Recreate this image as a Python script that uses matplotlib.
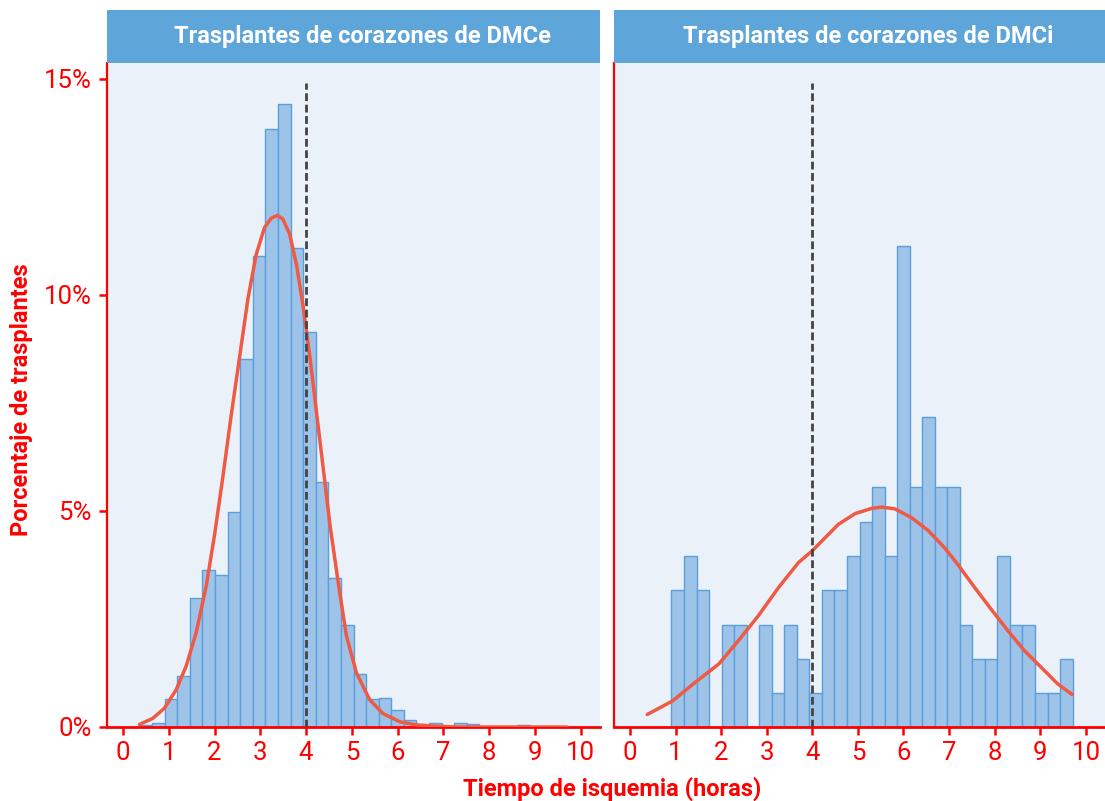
import matplotlib
matplotlib.use("Agg")
import matplotlib.pyplot as plt
import numpy as np
from matplotlib.patches import Rectangle

plt.rcParams['font.family'] = ['Roboto', 'DejaVu Sans']

# shared histogram bins (hours)
bin_lo = 0.36
bin_hi = 9.71
n_bins = 34

panel_titles = ["Trasplantes de corazones de DMCe", "Trasplantes de corazones de DMCi"]

# percent of transplants in each bin
pct_dmce = [0.05, 0.09, 0.65, 1.18, 2.99, 3.63, 3.51, 4.98, 8.52, 10.9,
            13.85, 14.42, 11.09, 9.15, 5.67, 3.44, 2.36, 1.22, 0.65, 0.67,
            0.39, 0.16, 0.0, 0.10, 0.0, 0.10, 0.06, 0.0, 0.0, 0.0,
            0.04, 0.0, 0.0, 0.0]
pct_dmci = [0.0, 0.0, 3.18, 3.96, 3.18, 0.0, 2.37, 2.37, 0.0, 2.36,
            0.79, 2.37, 1.58, 0.79, 3.18, 3.18, 3.96, 4.75, 5.55, 3.96,
            11.13, 5.55, 7.17, 5.55, 5.55, 2.36, 1.57, 1.57, 3.96, 2.36,
            2.36, 0.79, 0.79, 1.57]

# fitted density curves (hours, percent)
curve_dmce_x = [0.36, 0.65, 0.90, 1.16, 1.38, 1.60, 1.82, 2.00, 2.18, 2.36,
                2.55, 2.73, 2.91, 3.09, 3.24, 3.37, 3.49, 3.64, 3.79, 3.93,
                4.08, 4.22, 4.37, 4.52, 4.70, 4.88, 5.10, 5.39, 5.68, 6.05,
                6.4, 6.8, 7.3, 8.0, 9.0, 9.7]
curve_dmce_y = [0.06, 0.20, 0.43, 0.86, 1.41, 2.19, 3.28, 4.45, 5.78, 7.19,
                8.59, 9.92, 10.94, 11.56, 11.78, 11.84, 11.76, 11.41, 10.70, 9.77,
                8.59, 7.34, 6.02, 4.69, 3.35, 2.11, 1.25, 0.63, 0.31, 0.12,
                0.05, 0.02, 0.0, 0.0, 0.0, 0.0]
curve_dmci_x = [0.38, 0.93, 1.44, 1.95, 2.38, 2.82, 3.26, 3.70, 4.00, 4.28,
                4.57, 4.94, 5.30, 5.52, 5.81, 6.17, 6.54, 6.90, 7.20, 7.56,
                7.92, 8.29, 8.65, 9.02, 9.38, 9.70]
curve_dmci_y = [0.29, 0.60, 1.04, 1.46, 2.00, 2.58, 3.23, 3.81, 4.08, 4.38,
                4.69, 4.94, 5.06, 5.09, 5.05, 4.85, 4.55, 4.15, 3.75, 3.23,
                2.73, 2.23, 1.77, 1.38, 1.00, 0.75]

cutoff = 4  # hours
x_ticks = list(range(0, 11))
y_ticks = [0, 5, 10, 15]
y_ticklabels = ["0%", "5%", "10%", "15%"]

red = "#ff0000"
bg = "#eaf1f9"
strip_col = "#5ea5da"
bar_face = "#9dc3e8"
bar_edge = "#5a9edb"
curve_col = "#f05a44"

fig = plt.figure(figsize=(11.05, 8.01), dpi=100)
W, H = 1105, 801
panels = [(107, 600), (614, 1105)]
top, bottom = 63, 727

edges = np.linspace(bin_lo, bin_hi, n_bins + 1)
width = edges[1] - edges[0]

data = [(pct_dmce, curve_dmce_x, curve_dmce_y), (pct_dmci, curve_dmci_x, curve_dmci_y)]

for i, ((x0, x1), title, (pct, cx, cy)) in enumerate(zip(panels, panel_titles, data)):
    ax = fig.add_axes([x0 / W, (H - bottom) / H, (x1 - x0) / W, (bottom - top) / H])
    ax.set_facecolor(bg)
    ax.bar(edges[:-1], pct, width=width, align='edge', color=bar_face,
           edgecolor=bar_edge, linewidth=1.0, zorder=2)
    ax.plot(cx, cy, color=curve_col, lw=2.5, zorder=3, solid_capstyle='round',
            solid_joinstyle='round')
    ax.vlines(cutoff, 0, 14.9, colors="#444444", linestyles=(0, (2.8, 1.3)), lw=2.0, zorder=4)

    ax.set_xlim(-0.35, 10.42)
    ax.set_ylim(0, 15.37)
    ax.set_xticks(x_ticks)
    ax.set_xticklabels([str(t) for t in x_ticks])
    for s in ["top", "right"]:
        ax.spines[s].set_visible(False)
    for s in ["left", "bottom"]:
        ax.spines[s].set_color(red)
    ax.spines["left"].set_linewidth(1.6)
    ax.spines["bottom"].set_linewidth(2.0)
    ax.tick_params(axis='x', colors=red, labelsize=18.5, length=6, width=1.8, pad=4)
    if i == 0:
        ax.set_yticks(y_ticks)
        ax.set_yticklabels(y_ticklabels)
        ax.tick_params(axis='y', colors=red, labelsize=18.5, length=6, width=1.8, pad=5)
    else:
        ax.set_yticks([])

    # facet strip
    fig.add_artist(Rectangle((x0 / W, (H - top) / H), (x1 - x0) / W, 53 / H,
                             transform=fig.transFigure, facecolor=strip_col,
                             edgecolor='none'))
    fig.text(((x0 + x1) / 2 + 9) / W, (H - 37) / H, title, color="white",
             fontsize=17, fontweight='bold', ha='center', va='center')

fig.text(612 / W, (H - 789) / H, "Tiempo de isquemia (horas)", color=red,
         fontsize=17, fontweight='bold', ha='center', va='center')
fig.text(22 / W, (H - 400) / H, "Porcentaje de trasplantes", color=red,
         fontsize=17, fontweight='bold', ha='center', va='center', rotation=90)

fig.savefig("out.png", dpi=100, facecolor="white")
